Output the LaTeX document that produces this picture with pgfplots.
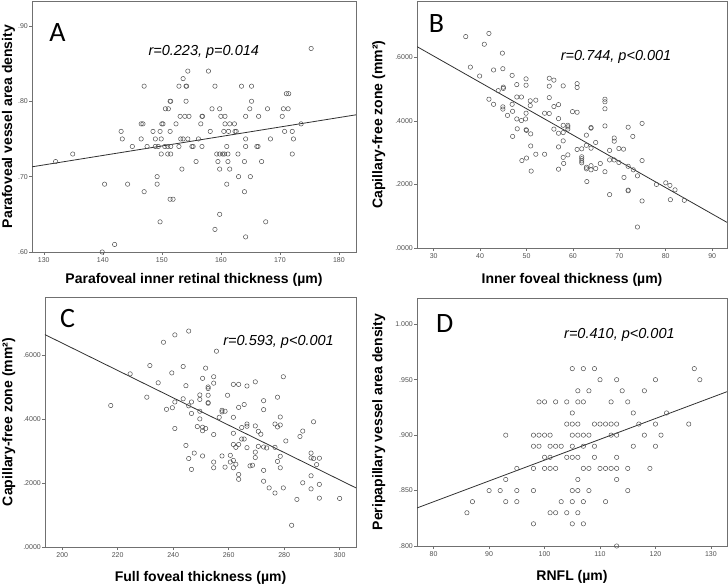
\documentclass[border=0pt]{standalone}
\usepackage{fontspec}
\setmainfont{Liberation Sans}
\newfontfamily\calib{Carlito}
\usepackage{pgfplots}
\pgfplotsset{compat=1.18}
\definecolor{framegray}{HTML}{707070}
\definecolor{markgray}{HTML}{505050}
\definecolor{ticktext}{HTML}{505050}
\definecolor{linecol}{HTML}{303030}
\pgfplotsset{
  panel/.style={
    scale only axis,
    axis line style={draw=framegray, line width=0.9pt},
    tick style={draw=framegray, line width=0.6pt},
    tick align=outside, major tick length=3pt,
    tick pos=left,
    ticklabel style={font=\fontsize{7}{8}\selectfont, text=ticktext},
    yticklabel style={inner sep=1pt},
    xticklabel style={inner sep=2pt},
    label style={font=\fontsize{14}{16}\selectfont\bfseries, inner sep=0pt},
  },
  dots/.style={only marks, mark=o, mark size=2.2pt, mark options={draw=markgray, line width=0.5pt}},
  fit/.style={no marks, draw=linecol, line width=0.8pt},
}
\newcommand{\ann}[1]{\fontsize{14.5}{16}\selectfont\itshape #1}
\newcommand{\plet}[1]{\fontsize{28}{30}\selectfont\calib #1}
\begin{document}
\begin{tikzpicture}
\useasboundingbox (0pt,0pt) rectangle (728pt,584pt);
% ---------- A ----------
\begin{axis}[panel, at={(32pt,332pt)}, anchor=south west, width=324pt, height=251pt,
  xmin=128, xmax=182.9, ymin=0.60, ymax=0.933,
  xtick={130,140,150,160,170,180}, xticklabels={130,140,150,160,170,180},
  ytick={0.6,0.7,0.8,0.9}, yticklabels={.60,.70,.80,.90},
  xlabel={Parafoveal inner retinal thickness (µm)},
  ylabel={Parafoveal vessel area density},
  xlabel style={at={(axis description cs:0.5,-0.084)}, anchor=north},
  ylabel style={at={(axis description cs:-0.093,0.5)}, anchor=north},
]
\addplot[dots] table {
132.0 0.72
134.9 0.73
140.3 0.69
139.9 0.60
142.0 0.61
143.1 0.76
143.3 0.75
144.2 0.69
145.0 0.74
146.5 0.75
146.5 0.77
146.8 0.77
147.0 0.82
147.0 0.68
147.5 0.74
148.5 0.76
148.9 0.75
148.9 0.74
149.2 0.70
149.2 0.69
149.4 0.74
149.7 0.76
149.7 0.64
149.9 0.75
149.9 0.73
150.0 0.77
150.2 0.77
150.5 0.74
150.6 0.79
151.0 0.73
151.1 0.79
151.0 0.74
151.4 0.80
151.5 0.80
151.4 0.67
151.9 0.67
151.4 0.76
151.5 0.73
151.5 0.74
152.4 0.77
152.9 0.82
152.9 0.74
153.1 0.78
153.2 0.75
153.4 0.71
153.6 0.75
153.6 0.83
153.9 0.78
154.1 0.82
154.2 0.82
154.1 0.80
154.4 0.84
154.4 0.75
154.6 0.78
155.1 0.74
155.3 0.74
155.8 0.72
156.2 0.75
156.6 0.77
156.8 0.78
156.9 0.78
156.8 0.74
157.9 0.84
158.2 0.76
158.5 0.79
159.0 0.82
159.0 0.63
159.3 0.73
159.5 0.72
159.8 0.71
159.8 0.79
159.8 0.65
159.8 0.73
160.0 0.78
160.3 0.73
160.5 0.76
160.6 0.73
160.7 0.78
160.7 0.77
161.0 0.74
161.0 0.69
161.2 0.73
161.2 0.72
161.3 0.76
161.5 0.71
161.5 0.77
162.3 0.77
162.4 0.76
162.6 0.76
162.9 0.73
163.0 0.70
163.5 0.82
164.0 0.72
164.0 0.68
164.2 0.75
164.2 0.74
164.2 0.78
164.2 0.62
164.9 0.79
165.0 0.70
165.2 0.82
165.2 0.80
166.1 0.74
166.3 0.74
166.4 0.78
166.9 0.72
167.6 0.64
167.9 0.79
168.4 0.75
170.4 0.78
170.6 0.79
170.8 0.76
171.1 0.81
171.5 0.81
171.4 0.79
172.1 0.76
172.1 0.73
172.3 0.75
173.6 0.77
175.3 0.87
};
\addplot[fit] coordinates {(128.0,0.713) (182.9,0.782)};
\node at (132.3,0.891) {\plet{A}};
\node at (157.1,0.866) {\ann{r=0.223, p=0.014}};
\end{axis}
% ---------- B ----------
\begin{axis}[panel, at={(417pt,336pt)}, anchor=south west, width=310pt, height=247pt,
  xmin=26.4, xmax=93.2, ymin=0, ymax=0.777,
  xtick={30,40,50,60,70,80,90}, xticklabels={30,40,50,60,70,80,90},
  ytick={0,0.2,0.4,0.6}, yticklabels={.0000,.2000,.4000,.6000},
  xlabel={Inner foveal thickness (µm)},
  ylabel={Capillary-free zone (mm²)},
  xlabel style={at={(axis description cs:0.5,-0.101)}, anchor=north},
  ylabel style={at={(axis description cs:-0.145,0.5)}, anchor=north},
]
\addplot[dots] table {
36.9 0.665
37.9 0.569
39.9 0.541
40.9 0.641
41.9 0.675
41.9 0.468
42.9 0.560
42.9 0.452
43.9 0.495
44.8 0.613
44.9 0.564
45.0 0.506
45.0 0.502
44.9 0.444
44.9 0.437
45.9 0.417
46.9 0.543
46.9 0.452
47.0 0.430
47.0 0.351
47.9 0.514
47.9 0.475
47.9 0.406
48.0 0.375
48.9 0.475
48.9 0.401
49.0 0.275
49.8 0.406
49.9 0.424
49.9 0.532
49.9 0.512
49.9 0.372
50.0 0.370
50.0 0.283
50.8 0.463
50.8 0.448
50.9 0.359
50.9 0.321
51.0 0.242
52.0 0.465
52.0 0.295
53.9 0.424
53.9 0.295
54.9 0.534
54.9 0.509
54.9 0.473
54.9 0.423
55.9 0.528
55.9 0.445
55.9 0.374
56.9 0.451
56.9 0.407
56.9 0.361
56.9 0.318
56.9 0.248
57.9 0.510
57.9 0.386
57.9 0.363
57.9 0.337
57.9 0.285
58.0 0.266
58.9 0.386
58.9 0.381
58.9 0.374
58.9 0.293
59.9 0.429
60.9 0.517
60.9 0.505
60.9 0.427
60.9 0.310
61.9 0.312
61.9 0.287
61.9 0.281
61.9 0.274
61.9 0.268
62.9 0.355
62.9 0.323
62.9 0.254
62.9 0.249
63.0 0.209
63.9 0.379
63.9 0.377
63.9 0.314
63.9 0.259
63.9 0.246
64.9 0.332
64.9 0.250
65.9 0.266
66.9 0.468
66.9 0.460
66.9 0.438
66.9 0.384
66.9 0.240
67.9 0.307
67.9 0.277
67.9 0.168
68.9 0.346
68.9 0.336
68.9 0.277
69.9 0.313
69.9 0.269
70.9 0.311
71.0 0.222
71.9 0.380
71.9 0.257
71.9 0.182
71.9 0.180
72.9 0.351
73.0 0.246
73.9 0.227
73.9 0.066
74.9 0.392
74.9 0.275
74.9 0.148
78.0 0.200
80.0 0.205
80.9 0.197
81.0 0.152
82.0 0.183
84.0 0.150
};
\addplot[fit] coordinates {(26.4,0.6335) (93.2,0.0806)};
\node at (30.6,0.707) {\plet{B}};
\node at (69.3,0.600) {\ann{r=0.744, p<0.001}};
\end{axis}
% ---------- C ----------
\begin{axis}[panel, at={(45pt,37pt)}, anchor=south west, width=311pt, height=250pt,
  xmin=193.8, xmax=305.9, ymin=0, ymax=0.7826,
  xtick={200,220,240,260,280,300}, xticklabels={200,220,240,260,280,300},
  ytick={0,0.2,0.4,0.6}, yticklabels={.0000,.2000,.4000,.6000},
  xlabel={Full foveal thickness (µm)},
  ylabel={Capillary-free zone (mm²)},
  xlabel style={at={(axis description cs:0.5,-0.096)}, anchor=north},
  ylabel style={at={(axis description cs:-0.138,0.5)}, anchor=north},
]
\addplot[dots] table {
217.5 0.443
224.5 0.542
230.5 0.469
231.6 0.568
234.6 0.514
236.5 0.641
237.6 0.431
239.7 0.436
239.5 0.545
240.6 0.664
240.6 0.371
240.6 0.454
243.6 0.464
243.6 0.565
244.6 0.505
244.6 0.318
245.6 0.676
245.6 0.442
245.6 0.277
246.6 0.454
246.6 0.418
246.6 0.243
247.6 0.294
248.7 0.377
249.6 0.476
249.6 0.462
249.6 0.425
249.6 0.401
250.6 0.528
250.6 0.375
250.6 0.364
250.6 0.285
251.7 0.560
251.7 0.371
252.6 0.501
252.6 0.496
252.6 0.475
252.6 0.452
252.6 0.450
254.6 0.533
254.6 0.513
254.6 0.352
254.6 0.266
254.6 0.248
255.6 0.613
256.6 0.406
257.6 0.428
257.6 0.423
257.6 0.285
258.7 0.425
258.7 0.250
259.6 0.475
260.6 0.287
260.6 0.266
261.7 0.509
261.7 0.406
261.7 0.356
261.7 0.321
261.7 0.271
261.7 0.248
262.6 0.312
262.6 0.259
263.6 0.509
263.6 0.437
263.6 0.321
263.6 0.227
263.6 0.212
264.7 0.374
264.7 0.338
265.6 0.446
265.6 0.338
266.6 0.504
266.6 0.385
266.6 0.378
266.6 0.311
267.7 0.254
268.6 0.256
269.6 0.517
269.6 0.379
269.6 0.297
269.6 0.280
270.7 0.362
270.7 0.315
271.6 0.353
272.6 0.458
272.6 0.430
272.6 0.313
272.6 0.240
272.6 0.206
273.7 0.310
274.6 0.185
276.7 0.385
276.7 0.312
276.7 0.169
277.6 0.469
277.6 0.376
277.6 0.268
278.6 0.407
278.6 0.382
278.6 0.284
278.6 0.248
279.7 0.533
279.7 0.185
280.6 0.332
282.7 0.068
284.6 0.149
285.7 0.346
286.7 0.363
286.7 0.201
289.7 0.294
289.7 0.279
289.7 0.223
289.7 0.182
290.6 0.392
290.6 0.277
291.7 0.258
292.7 0.278
292.7 0.196
292.7 0.153
300.0 0.152
};
\addplot[fit] coordinates {(193.75,0.665) (305.9,0.185)};
\node at (201.9,0.715) {\plet{C}};
\node at (278.0,0.642) {\ann{r=0.593, p<0.001}};
\end{axis}
% ---------- D ----------
\begin{axis}[panel, at={(417pt,38pt)}, anchor=south west, width=310pt, height=248pt,
  xmin=77, xmax=132.9, ymin=0.8, ymax=1.0237,
  xtick={80,90,100,110,120,130}, xticklabels={80,90,100,110,120,130},
  ytick={0.8,0.85,0.9,0.95,1.0}, yticklabels={.800,.850,.900,.950,1.000},
  xlabel={RNFL (µm)},
  ylabel={Peripapillary vessel area density},
  xlabel style={at={(axis description cs:0.5,-0.097)}, anchor=north},
  ylabel style={at={(axis description cs:-0.145,0.5)}, anchor=north},
]
\addplot[dots] table {
86 0.83
87 0.84
90 0.85
92 0.85
93 0.90
93 0.86
93 0.84
95 0.87
95 0.85
95 0.84
98 0.90
98 0.89
98 0.87
98 0.85
98 0.82
99 0.90
99 0.89
99 0.93
100 0.93
100 0.90
100 0.88
100 0.87
101 0.90
101 0.89
101 0.88
101 0.87
101 0.83
102 0.93
102 0.89
102 0.87
102 0.83
103 0.89
103 0.84
104 0.93
104 0.91
104 0.88
104 0.83
105 0.96
105 0.92
105 0.91
105 0.90
105 0.89
105 0.88
105 0.85
105 0.84
105 0.82
106 0.94
106 0.93
106 0.91
106 0.90
106 0.88
106 0.86
106 0.85
106 0.83
107 0.96
107 0.93
107 0.90
107 0.89
107 0.87
107 0.84
107 0.82
108 0.94
108 0.90
108 0.87
108 0.85
109 0.96
109 0.91
109 0.89
109 0.88
110 0.95
110 0.91
110 0.87
111 0.91
111 0.87
111 0.84
112 0.91
112 0.93
112 0.90
112 0.87
113 0.95
113 0.91
113 0.90
113 0.88
113 0.87
113 0.86
113 0.80
114 0.94
115 0.93
115 0.87
115 0.85
116 0.92
116 0.89
117 0.91
118 0.94
118 0.90
119 0.87
120 0.95
120 0.91
120 0.89
121 0.90
122 0.92
126 0.91
127 0.96
128 0.95
};
\addplot[fit] coordinates {(77.0,0.8343) (132.9,0.9392)};
\node at (82.0,1.0006) {\plet{D}};
\node at (113.5,0.990) {\ann{r=0.410, p<0.001}};
\end{axis}
\end{tikzpicture}
\end{document}
